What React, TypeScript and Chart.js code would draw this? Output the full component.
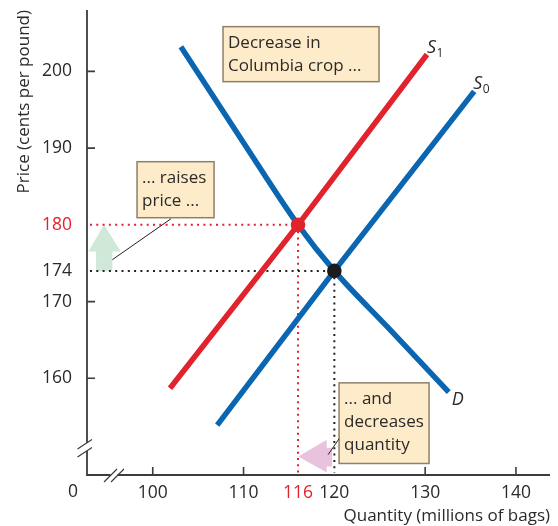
import React, { useEffect, useRef } from "react";
import { Chart, registerables } from "chart.js";

Chart.register(...registerables);

// ---- Data ----
const demandQuantity = [103.1, 110, 116, 120, 126, 132.6];
const demandPrice = [203.2, 190.7, 180, 174, 166.5, 158.2];
const supply0Quantity = [107.1, 120, 135.4];
const supply0Price = [153.9, 174, 197.4];
const supply1Quantity = [101.9, 116, 130.2];
const supply1Price = [158.7, 180, 202.2];
const equilibriumQuantity = [120, 116];
const equilibriumPrice = [174, 180];
const xTickValues = [100, 110, 116, 120, 130, 140];
const yTickValues = [160, 170, 174, 180, 190, 200];
const xTickMarks = [100, 110, 130, 140];
const yTickMarks = [160, 170, 190, 200];

const BLUE = "#0b66b2";
const RED = "#e0232c";
const TEXT = "#2a2a2a";
const AXIS = "#3c3c3c";
const FONT = "'Open Sans'";

const toPts = (xs: number[], ys: number[]) => xs.map((x, i) => ({ x, y: ys[i] }));

const annotate = {
  id: "annotate",
  beforeDatasetsDraw(chart: any) {
    const { ctx, scales } = chart;
    const xs = scales.x, ys = scales.y;
    const X = (v: number) => xs.getPixelForValue(v);
    const Y = (v: number) => ys.getPixelForValue(v);
    ctx.save();
    // green arrow (price rises 174 -> 180)
    ctx.fillStyle = "#cfe8d8";
    ctx.beginPath();
    ctx.moveTo(X(94.64), Y(180));
    ctx.lineTo(X(96.48), Y(176.53));
    ctx.lineTo(X(95.55), Y(176.53));
    ctx.lineTo(X(95.55), Y(174));
    ctx.lineTo(X(93.76), Y(174));
    ctx.lineTo(X(93.76), Y(176.53));
    ctx.lineTo(X(92.91), Y(176.53));
    ctx.closePath();
    ctx.fill();
    // pink arrow (quantity decreases 120 -> 116)
    ctx.fillStyle = "#e9c3dd";
    ctx.beginPath();
    ctx.moveTo(X(116.03), Y(149.8));
    ctx.lineTo(X(119.16), Y(151.98));
    ctx.lineTo(X(119.16), Y(150.94));
    ctx.lineTo(X(119.75), Y(150.94));
    ctx.lineTo(X(119.75), Y(148.5));
    ctx.lineTo(X(119.16), Y(148.5));
    ctx.lineTo(X(119.16), Y(147.72));
    ctx.closePath();
    ctx.fill();
    // dotted guide lines
    ctx.lineWidth = 2;
    ctx.setLineDash([2, 4.3]);
    const guides: [number, number, string][] = [
      [116, 180, RED],
      [120, 174, "#222"],
    ];
    for (const [q, p, c] of guides) {
      ctx.strokeStyle = c;
      ctx.beginPath();
      ctx.moveTo(xs.left + 3, Y(p));
      ctx.lineTo(X(q), Y(p));
      ctx.moveTo(X(q), Y(p));
      ctx.lineTo(X(q), ys.bottom - 2);
      ctx.stroke();
    }
    ctx.restore();
  },
  afterDraw(chart: any) {
    const { ctx, scales } = chart;
    const xs = scales.x, ys = scales.y;
    const X = (v: number) => xs.getPixelForValue(v);
    const Y = (v: number) => ys.getPixelForValue(v);
    const L = xs.left, B = ys.bottom, T = ys.top, R = xs.right;
    ctx.save();
    // axes with breaks
    ctx.strokeStyle = AXIS;
    ctx.lineWidth = 1.8;
    ctx.beginPath();
    ctx.moveTo(L, T);
    ctx.lineTo(L, B - 32);
    ctx.moveTo(L, B - 24);
    ctx.lineTo(L, B);
    ctx.lineTo(L + 23.5, B);
    ctx.moveTo(L + 30.5, B);
    ctx.lineTo(R, B);
    ctx.stroke();
    // break marks
    ctx.lineWidth = 1.2;
    ctx.beginPath();
    ctx.moveTo(L - 9.5, B - 26);
    ctx.lineTo(L + 5, B - 35.5);
    ctx.moveTo(L - 9.5, B - 18);
    ctx.lineTo(L + 5, B - 27.5);
    ctx.moveTo(L + 17, B + 7);
    ctx.lineTo(L + 30, B - 6);
    ctx.moveTo(L + 24, B + 7);
    ctx.lineTo(L + 37, B - 6);
    ctx.stroke();
    // inward tick marks
    ctx.lineWidth = 1.6;
    ctx.beginPath();
    for (const v of xTickMarks) {
      ctx.moveTo(X(v), B);
      ctx.lineTo(X(v), B - 8);
    }
    for (const v of yTickMarks) {
      ctx.moveTo(L, Y(v));
      ctx.lineTo(L + 8, Y(v));
    }
    ctx.stroke();
    // origin label
    ctx.fillStyle = TEXT;
    ctx.font = `17.5px ${FONT}`;
    ctx.textAlign = "center";
    ctx.textBaseline = "alphabetic";
    ctx.fillText("0", L - 14, B + 22);

    // callout boxes
    const box = (q0: number, p0: number, q1: number, p1: number, lines: string[]) => {
      const x0 = X(q0), y0 = Y(p0), x1 = X(q1), y1 = Y(p1);
      ctx.fillStyle = "#fdebc9";
      ctx.fillRect(x0, y0, x1 - x0, y1 - y0);
      ctx.strokeStyle = "#8f8068";
      ctx.lineWidth = 1.5;
      ctx.strokeRect(x0, y0, x1 - x0, y1 - y0);
      ctx.fillStyle = TEXT;
      ctx.font = `17px ${FONT}`;
      ctx.textAlign = "left";
      ctx.textBaseline = "alphabetic";
      lines.forEach((t, i) => ctx.fillText(t, x0 + 5, y0 + 21.5 + i * 23));
    };
    box(107.74, 205.83, 124.92, 198.66, ["Decrease in", "Columbia crop ..."]);
    box(98.27, 188.23, 106.75, 180.93, ["... raises", "price ..."]);
    box(120.52, 159.41, 130.43, 148.9, ["... and", "decreases", "quantity"]);

    // callout lines
    ctx.strokeStyle = "#222";
    ctx.lineWidth = 1;
    ctx.beginPath();
    ctx.moveTo(X(102.02), Y(180.8));
    ctx.lineTo(X(95.55), Y(175.46));
    ctx.moveTo(X(120.52), Y(152.12));
    ctx.lineTo(X(119.31), Y(150.05));
    ctx.stroke();

    // curve labels
    ctx.fillStyle = TEXT;
    ctx.textAlign = "left";
    const curveLabel = (q: number, p: number, dx: number, dy: number, main: string, sub: string) => {
      const x = X(q) + dx, y = Y(p) + dy;
      ctx.font = `italic 18px ${FONT}`;
      ctx.fillText(main, x, y);
      if (sub) {
        const w = ctx.measureText(main).width;
        ctx.font = `12px ${FONT}`;
        ctx.fillText(sub, x + w + 0.5, y + 4);
      }
    };
    const n1 = supply1Quantity.length - 1;
    const n0 = supply0Quantity.length - 1;
    const nd = demandQuantity.length - 1;
    curveLabel(supply1Quantity[n1], supply1Price[n1], 0, -2, "S", "1");
    curveLabel(supply0Quantity[n0], supply0Price[n0], -1, -2, "S", "0");
    curveLabel(demandQuantity[nd], demandPrice[nd], 3, 13, "D", "");
    ctx.restore();
  },
};

export default function App() {
  const ref = useRef<HTMLCanvasElement>(null);
  useEffect(() => {
    document.body.style.margin = "0";
    const canvas = ref.current!;
    const lineDs = (label: string, xs: number[], ys: number[], color: string, extra: any = {}) => ({
      label,
      data: toPts(xs, ys),
      borderColor: color,
      backgroundColor: color,
      borderWidth: 5.5,
      pointRadius: 0,
      fill: false,
      tension: 0,
      borderCapStyle: "butt",
      ...extra,
    });
    const chart = new Chart(canvas, {
      type: "line",
      data: {
        datasets: [
          {
            label: "Equilibrium",
            data: toPts(equilibriumQuantity, equilibriumPrice),
            showLine: false,
            pointRadius: 7.3,
            pointBackgroundColor: ["#1c1c1c", RED],
            pointBorderWidth: 0,
          } as any,
          lineDs("S1", supply1Quantity, supply1Price, RED),
          lineDs("D", demandQuantity, demandPrice, BLUE, { cubicInterpolationMode: "monotone" }),
          lineDs("S0", supply0Quantity, supply0Price, BLUE),
        ],
      },
      options: {
        animation: false,
        responsive: false,
        devicePixelRatio: 1,
        layout: { padding: { top: 10, right: 8, left: 0, bottom: 0 } },
        plugins: { legend: { display: false }, tooltip: { enabled: false } },
        scales: {
          x: {
            type: "linear",
            min: 92.76,
            max: 143.75,
            afterFit: (s: any) => {
              s.height = 51;
              s.paddingLeft = 0;
              s.paddingRight = 0;
            },
            afterBuildTicks: (s: any) => { s.ticks = xTickValues.map((value) => ({ value })); },
            grid: { display: false },
            border: { display: false },
            ticks: {
              autoSkip: false,
              maxRotation: 0,
              padding: 0,
              font: { family: "Open Sans", size: 17.5 },
              color: (c: any) => (c.tick && c.tick.value === 116 ? RED : TEXT),
            },
            title: {
              display: true,
              text: "Quantity (millions of bags)",
              align: "end",
              color: TEXT,
              font: { family: "Open Sans", size: 17 },
              padding: { top: 0, bottom: 0 },
            },
          },
          y: {
            type: "linear",
            min: 147.4,
            max: 208.0,
            afterFit: (s: any) => {
              s.width = 87;
              s.paddingTop = 0;
              s.paddingBottom = 0;
            },
            afterBuildTicks: (s: any) => { s.ticks = yTickValues.map((value) => ({ value })); },
            grid: { display: false },
            border: { display: false },
            ticks: {
              autoSkip: false,
              padding: 7,
              font: { family: "Open Sans", size: 17.5 },
              color: (c: any) => (c.tick && c.tick.value === 180 ? RED : TEXT),
            },
            title: {
              display: true,
              text: "Price (cents per pound)",
              align: "end",
              color: TEXT,
              font: { family: "Open Sans", size: 17 },
              padding: { top: 13.5, bottom: 0 },
            },
          },
        },
      },
      plugins: [annotate],
    } as any);
    return () => chart.destroy();
  }, []);
  return (
    <div style={{ position: "fixed", left: 0, top: 0, width: 558, height: 526 }}>
      <canvas ref={ref} width={558} height={526} style={{ display: "block" }} />
    </div>
  );
}
